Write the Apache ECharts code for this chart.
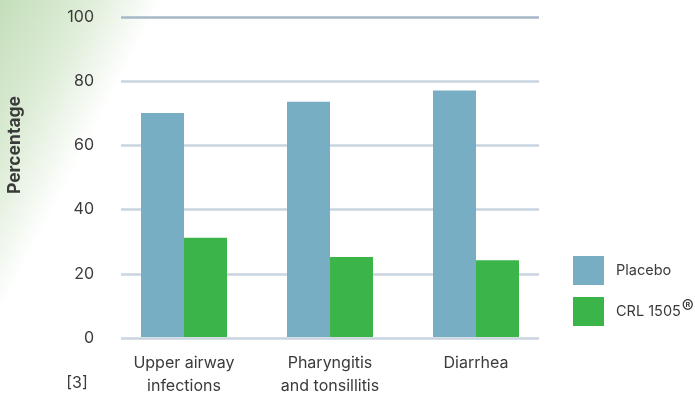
<!DOCTYPE html>
<html>
<head>
<meta charset="utf-8">
<script src="https://cdn.jsdelivr.net/npm/echarts@6/dist/echarts.min.js"></script>
<style>
  html, body { margin: 0; padding: 0; background: #ffffff; }
  #chart { width: 695px; height: 398px; }
</style>
</head>
<body>
<div id="chart"></div>
<script>
// Adverse events by type, share of participants (%)
const categories = ['Upper airway\ninfections', 'Pharyngitis\nand tonsillitis', 'Diarrhea'];
const placebo = [70, 73.5, 77];
const crl1505 = [31, 25, 24];
const yTicks = [0, 20, 40, 60, 80, 100];

const FONT = 'Inter, "Noto Sans", sans-serif';
const TEXT = '#3a3a3a';
const GRID_LIGHT = '#c9d4df';
const GRID_TOP = '#a6b7c7';

const chart = echarts.init(document.getElementById('chart'), null, { renderer: 'canvas' });

const plotTop = 17;
const plotHeight = 321;

chart.setOption({
  backgroundColor: {
    type: 'linear', global: true,
    x: 0, y: 0, x2: 128, y2: 66,
    colorStops: [
      { offset: 0, color: '#c4deb9' },
      { offset: 0.55, color: '#deedd8' },
      { offset: 1, color: '#ffffff' }
    ]
  },
  textStyle: { fontFamily: FONT },
  animation: false,
  grid: [
    { left: 121, width: 418, top: plotTop, height: plotHeight },
    { left: 111, width: 438, top: plotTop, height: plotHeight }
  ],
  xAxis: [
    { gridIndex: 0, type: 'category', data: categories, show: false },
    {
      gridIndex: 1, type: 'category', data: categories,
      axisLine: { show: false }, axisTick: { show: false },
      axisLabel: {
        margin: 15, fontSize: 16, lineHeight: 23, color: TEXT, fontFamily: FONT
      }
    }
  ],
  yAxis: [
    {
      gridIndex: 0, type: 'value', min: yTicks[0], max: yTicks[yTicks.length - 1], interval: 20,
      axisLine: { show: false }, axisTick: { show: false },
      axisLabel: { margin: 27, fontSize: 16, color: TEXT, fontFamily: FONT },
      splitLine: {
        lineStyle: {
          width: 2.5,
          color: [GRID_LIGHT, GRID_LIGHT, GRID_LIGHT, GRID_LIGHT, GRID_LIGHT, GRID_TOP]
        }
      }
    },
    {
      gridIndex: 1, type: 'value', min: yTicks[0], max: yTicks[yTicks.length - 1], interval: 20,
      show: false, splitLine: { show: false }
    }
  ],
  legend: {
    orient: 'vertical', left: 573, top: 256, padding: 0,
    itemWidth: 31, itemHeight: 29, itemGap: 12,
    icon: 'rect',
    textStyle: {
      fontSize: 14.5, color: TEXT, fontFamily: FONT, padding: [0, 0, 0, 7],
      rich: { sup: { fontSize: 18, color: TEXT, fontFamily: FONT, padding: [0, 0, 8, 1] } }
    },
    formatter: name => name === 'CRL 1505' ? 'CRL 1505{sup|®}' : name,
    data: ['Placebo', 'CRL 1505']
  },
  series: [
    {
      name: 'Placebo', type: 'bar', xAxisIndex: 1, yAxisIndex: 1,
      data: placebo, barWidth: 43, barGap: '0%',
      itemStyle: { color: '#78aec4' }
    },
    {
      name: 'CRL 1505', type: 'bar', xAxisIndex: 1, yAxisIndex: 1,
      data: crl1505, barWidth: 43, barGap: '0%',
      itemStyle: { color: '#3bb54a' }
    }
  ],
  graphic: [
    {
      type: 'text', x: 15, y: 145, rotation: Math.PI / 2,
      style: {
        text: 'Percentage', fontSize: 17.5, fontWeight: 'bold', fill: TEXT,
        fontFamily: FONT, align: 'center', verticalAlign: 'middle'
      }
    },
    {
      type: 'text', x: 77, y: 383,
      style: {
        text: '[3]', fontSize: 16, fill: TEXT, fontFamily: FONT,
        align: 'center', verticalAlign: 'middle'
      }
    }
  ]
});
</script>
</body>
</html>
